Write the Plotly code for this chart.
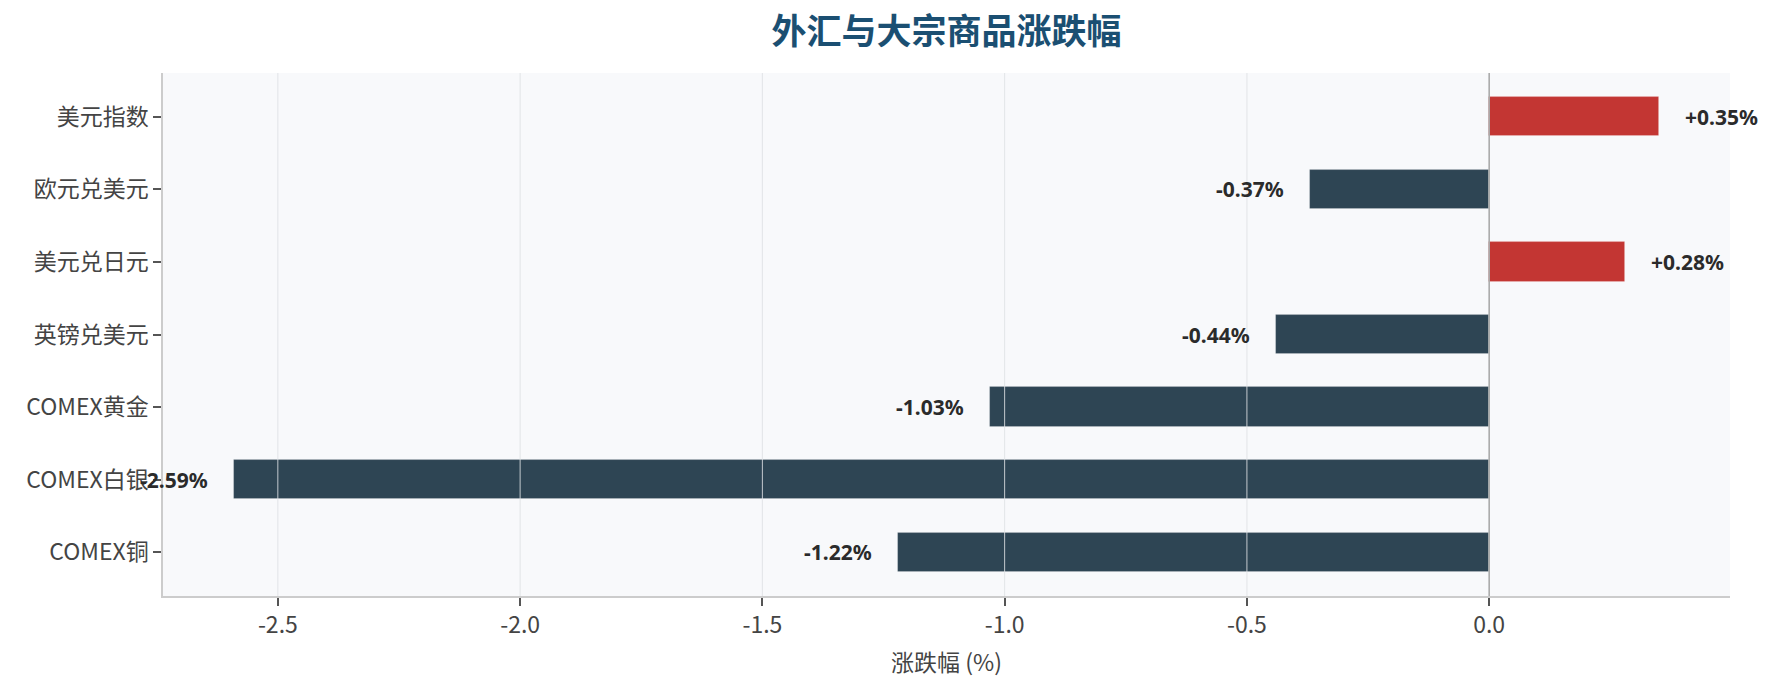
import plotly.graph_objects as go

categories = ["美元指数", "欧元兑美元", "美元兑日元", "英镑兑美元", "COMEX黄金", "COMEX白银", "COMEX铜"]
changes = [0.35, -0.37, 0.28, -0.44, -1.03, -2.59, -1.22]
xtick_vals = [-2.5, -2.0, -1.5, -1.0, -0.5, 0.0]
xtick_text = ["-2.5", "-2.0", "-1.5", "-1.0", "-0.5", "0.0"]

UP = "#c33633"
DOWN = "#2e4554"
colors = [UP if v >= 0 else DOWN for v in changes]

fig = go.Figure()
fig.add_trace(go.Bar(
    x=changes, y=categories, orientation="h",
    marker=dict(color=colors, line=dict(color="rgba(255,255,255,0.25)", width=0.8)),
    width=0.54, hoverinfo="skip", showlegend=False,
))

span = max(changes) - min(changes)
xmin = min(changes) - 0.05 * span
xmax = max(changes) + 0.05 * span
off = 0.05

annotations = []
for c, v in zip(categories, changes):
    annotations.append(dict(
        x=v + off if v >= 0 else v - off, y=c, xref="x", yref="y",
        text=f"<b>{v:+.2f}%</b>", showarrow=False,
        xanchor="left" if v >= 0 else "right", yanchor="middle",
        font=dict(family="Noto Sans, DejaVu Sans, sans-serif", size=21, color="#2b2b2b"),
    ))

shapes = []
for t in xtick_vals:
    if t == 0:
        continue
    shapes.append(dict(type="line", xref="x", yref="paper", x0=t, x1=t, y0=0, y1=1,
                       line=dict(color="rgba(222,224,228,0.85)", width=1), layer="above"))
shapes.append(dict(type="line", xref="x", yref="paper", x0=0, x1=0, y0=0, y1=1,
                   line=dict(color="#aaaaaa", width=1.6), layer="above"))

fig.update_layout(
    width=1776, height=694,
    paper_bgcolor="white", plot_bgcolor="#f8f9fb",
    margin=dict(l=163, r=46, t=73, b=98),
    title=dict(text="<b>外汇与大宗商品涨跌幅</b>", x=(163 + 1730) / 2 / 1776, xanchor="center",
               y=1 - 32 / 694, yanchor="middle",
               font=dict(family="Noto Sans CJK SC", size=35, color="#1b4f72")),
    font=dict(family="Noto Sans CJK SC", color="#444444"),
    annotations=annotations, shapes=shapes,
    bargap=0,
)
fig.update_xaxes(
    range=[xmin, xmax], tickvals=xtick_vals, ticktext=xtick_text,
    showgrid=False, zeroline=False,
    showline=True, linecolor="#cccccc", linewidth=1.5, mirror=False,
    ticks="outside", ticklen=8, tickwidth=1.5, tickcolor="#555555",
    tickfont=dict(family="Noto Sans CJK SC", size=23, color="#444444"),
    title=dict(text="涨跌幅 (%)", standoff=16,
               font=dict(family="Noto Sans CJK SC", size=23, color="#444444")),
)
fig.update_yaxes(
    range=[6.6025, -0.6025], type="category",
    showgrid=False, zeroline=False,
    showline=True, linecolor="#cccccc", linewidth=1.5,
    ticks="outside", ticklen=8, tickwidth=1.5, tickcolor="#555555",
    tickfont=dict(family="Noto Sans CJK SC", size=23, color="#444444"),
)

fig.write_html("out.html", config={"displayModeBar": False},
               post_script="document.body.style.margin='0';document.body.style.overflow='hidden';")
